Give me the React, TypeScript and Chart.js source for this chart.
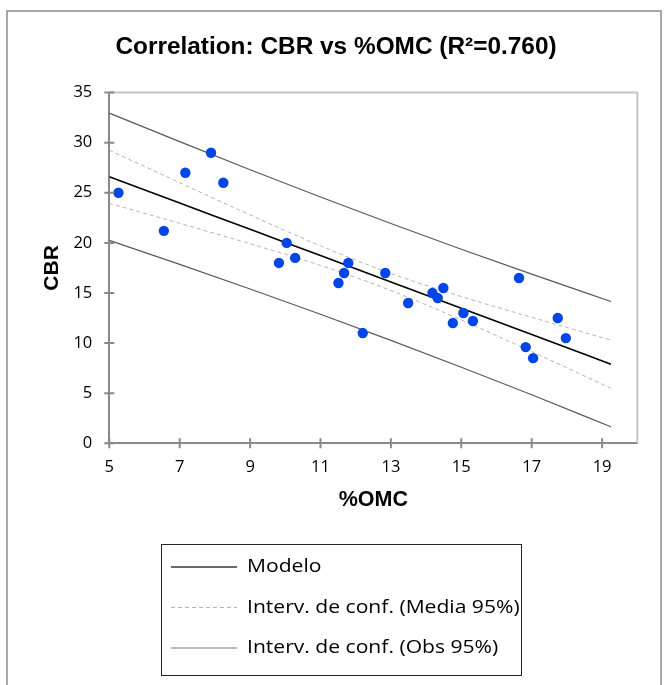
import { useEffect, useRef } from 'react';
import { Chart, registerables } from 'chart.js';

Chart.register(...registerables);

// ---- data ----
const omc = [5.26, 6.55, 7.16, 7.89, 8.24, 9.82, 10.04, 10.28, 11.51, 11.67, 11.79, 12.2, 12.84, 13.49, 14.18, 14.33, 14.49, 14.76, 15.06, 15.33, 16.64, 16.83, 17.04, 17.74, 17.97];
const cbr = [25, 21.2, 27, 29, 26, 18, 20, 18.5, 16, 17, 18, 11, 17, 14, 15, 14.5, 15.5, 12, 13, 12.2, 16.5, 9.6, 8.5, 12.5, 10.5];

const lineX = [5, 7, 9, 11, 13, 15, 17, 19.25];
const modelY = [26.6, 23.98, 21.35, 18.73, 16.1, 13.48, 10.86, 7.9];
const meanUpperY = [29.25, 26.01, 22.79, 19.7, 16.95, 14.65, 12.57, 10.3];
const meanLowerY = [23.95, 21.95, 19.91, 17.76, 15.25, 12.31, 9.15, 5.5];
const obsUpperY = [32.95, 30.1, 27.3, 24.58, 21.93, 19.37, 16.88, 14.15];
const obsLowerY = [20.25, 17.86, 15.4, 12.88, 10.27, 7.59, 4.84, 1.65];

const xTicks = [5, 7, 9, 11, 13, 15, 17, 19];
const yTicks = [0, 5, 10, 15, 20, 25, 30, 35];

const titleText = 'Correlation: CBR vs %OMC (R²=0.760)';
const xTitle = '%OMC';
const yTitle = 'CBR';
const seriesLabels = ['Modelo', 'Interv. de conf. (Media 95%)', 'Interv. de conf. (Obs 95%)'];

const toXY = (xs: number[], ys: number[]) => xs.map((x, i) => ({ x, y: ys[i] }));

const AXIS = '#898989';
const SANS = '"Liberation Sans", Arial, sans-serif';
const BODY = '"Open Sans", sans-serif';

const framePlugin = {
  id: 'frame',
  beforeDraw(chart: any) {
    const ctx = chart.ctx;
    ctx.save();
    ctx.fillStyle = '#ffffff';
    ctx.fillRect(0, 0, chart.width, chart.height);
    ctx.strokeStyle = '#8a8a8a';
    ctx.lineWidth = 1.5;
    ctx.strokeRect(7, 11, 654, 700);
    ctx.restore();
  },
  beforeDatasetsDraw(chart: any) {
    const { ctx, chartArea: a } = chart;
    ctx.save();
    ctx.strokeStyle = '#c6c6c6';
    ctx.lineWidth = 2;
    ctx.beginPath();
    ctx.moveTo(a.left, a.top);
    ctx.lineTo(a.right, a.top);
    ctx.lineTo(a.right, a.bottom);
    ctx.stroke();
    ctx.restore();
  },
  afterDraw(chart: any) {
    const { ctx, chartArea: a, scales } = chart;
    ctx.save();
    ctx.strokeStyle = AXIS;
    ctx.lineWidth = 2;
    ctx.beginPath();
    xTicks.forEach((v) => {
      const px = scales.x.getPixelForValue(v);
      ctx.moveTo(px, a.bottom - 5);
      ctx.lineTo(px, a.bottom + 5);
    });
    yTicks.forEach((v) => {
      const py = scales.y.getPixelForValue(v);
      ctx.moveTo(a.left - 5, py);
      ctx.lineTo(a.left + 5, py);
    });
    ctx.stroke();

    // boxed legend
    const items = chart.data.datasets.filter((d: any) => d.inLegend);
    ctx.strokeStyle = '#262626';
    ctx.lineWidth = 1;
    ctx.strokeRect(161.5, 544.5, 360, 131);
    ctx.font = '19px ' + BODY;
    ctx.textBaseline = 'middle';
    ctx.textAlign = 'left';
    ctx.fillStyle = '#000000';
    items.forEach((d: any, i: number) => {
      const y = 567 + i * 40.5;
      ctx.beginPath();
      ctx.setLineDash(d.borderDash || []);
      ctx.strokeStyle = d.legendColor || d.borderColor;
      ctx.lineWidth = d.borderWidth;
      ctx.moveTo(171, y);
      ctx.lineTo(237, y);
      ctx.stroke();
      ctx.setLineDash([]);
      ctx.save();
      ctx.translate(247, y);
      ctx.scale(1.11, 1);
      ctx.fillText(d.label, 0, 0);
      ctx.restore();
    });
    ctx.restore();
  },
};

export default function App() {
  const ref = useRef<HTMLCanvasElement | null>(null);

  useEffect(() => {
    if (!ref.current) return;
    const lineBase = { showLine: true, pointRadius: 0, pointHoverRadius: 0, fill: false, cubicInterpolationMode: 'monotone' };
    const chart = new Chart(ref.current, {
      type: 'scatter',
      data: {
        datasets: [
          {
            label: 'CBR',
            data: toXY(omc, cbr),
            backgroundColor: '#0046e6',
            borderColor: '#0046e6',
            borderWidth: 0,
            pointRadius: 5.2,
          },
          { ...lineBase, label: seriesLabels[0], data: toXY(lineX, modelY), borderColor: '#000000', legendColor: '#3a3a3a', borderWidth: 1.6, inLegend: true },
          { ...lineBase, label: seriesLabels[1], data: toXY(lineX, meanUpperY), borderColor: '#b4b4b4', borderWidth: 1, borderDash: [4, 3], inLegend: true },
          { ...lineBase, label: seriesLabels[1], data: toXY(lineX, meanLowerY), borderColor: '#b4b4b4', borderWidth: 1, borderDash: [4, 3] },
          { ...lineBase, label: seriesLabels[2], data: toXY(lineX, obsUpperY), borderColor: '#5a5a5a', legendColor: '#7a7a7a', borderWidth: 1.2, inLegend: true },
          { ...lineBase, label: seriesLabels[2], data: toXY(lineX, obsLowerY), borderColor: '#5a5a5a', borderWidth: 1.2 },
        ] as any,
      },
      options: {
        animation: false,
        responsive: false,
        maintainAspectRatio: false,
        layout: { padding: { top: 0, left: 34.7, right: 34.7, bottom: 161.7 } },
        plugins: {
          legend: { display: false },
          tooltip: { enabled: false },
          title: {
            display: true,
            text: titleText,
            color: '#000000',
            font: { family: SANS, size: 24.4, weight: 'bold' },
            padding: { top: 32.4, bottom: 30.9 },
          },
        },
        scales: {
          x: {
            type: 'linear',
            min: 5,
            max: 20,
            afterBuildTicks: (s: any) => { s.ticks = xTicks.map((v) => ({ value: v })); },
            afterFit: (s: any) => { s.height = 80; },
            grid: { display: false, drawTicks: false, tickLength: 0 },
            border: { display: true, color: AXIS, width: 2 },
            ticks: { color: '#000000', padding: 14, maxRotation: 0, autoSkip: false, font: { family: BODY, size: 16.5 } },
            title: {
              display: true,
              text: xTitle,
              color: '#000000',
              font: { family: SANS, size: 21.5, weight: 'bold' },
              padding: { top: 0, bottom: 10.4 },
            },
          },
          y: {
            type: 'linear',
            min: 0,
            max: 35,
            afterBuildTicks: (s: any) => { s.ticks = yTicks.map((v) => ({ value: v })); },
            afterFit: (s: any) => { s.width = 74.6; },
            grid: { display: false, drawTicks: false, tickLength: 0 },
            border: { display: true, color: AXIS, width: 2 },
            ticks: { color: '#000000', padding: 17, autoSkip: false, font: { family: BODY, size: 16.5 } },
            title: {
              display: true,
              text: yTitle,
              color: '#000000',
              font: { family: SANS, size: 21, weight: 'bold' },
              padding: { top: 4.7, bottom: 0 },
            },
          },
        },
      },
      plugins: [framePlugin],
    });
    return () => chart.destroy();
  }, []);

  return (
    <div style={{ position: 'absolute', left: 0, top: 0, width: 672, height: 685 }}>
      <canvas ref={ref} width={672} height={685} style={{ width: 672, height: 685, display: 'block' }} />
    </div>
  );
}
